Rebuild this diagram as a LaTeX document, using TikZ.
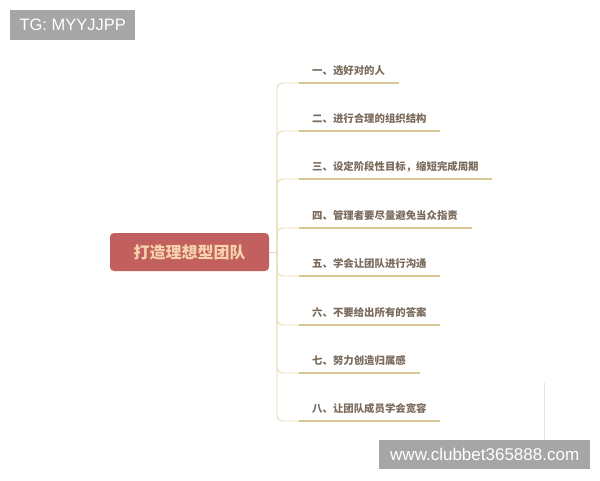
\documentclass[tikz,border=0pt]{standalone}
\usepackage{fontspec}
\setmainfont{Liberation Sans}
\newfontfamily\cjk{Noto Sans CJK SC}
\usepackage{xcolor}
\definecolor{rootred}{HTML}{C25F5F}
\definecolor{roottext}{HTML}{F6D3AB}
\definecolor{itemtext}{HTML}{7A6A5C}
\definecolor{ulinetan}{HTML}{D8C896}
\definecolor{branchtan}{HTML}{E4DAB2}
\definecolor{tagfill}{HTML}{A6A6A6}
\definecolor{faintgray}{HTML}{E2E2E2}

\begin{document}
\begin{tikzpicture}[x=1pt,y=-1pt,
    item/.style={anchor=south west,inner xsep=13.5pt,inner ysep=6pt,text height=8pt,text depth=2pt,text=itemtext,font=\cjk\bfseries\fontsize{10.4}{12}\selectfont},
    uline/.style={draw=ulinetan,line width=1.6pt},
    branch/.style={draw=branchtan,line width=0.9pt,rounded corners=5pt},
    tagbox/.style={anchor=north west,fill=tagfill,text=white,inner sep=0pt}]
    \useasboundingbox (0,0) rectangle (600,480);

    \node[tagbox,minimum width=125pt,minimum height=30pt,font=\fontsize{16.5}{20}\selectfont] (tg) at (10,10) {TG: MYYJJPP};
    \node[tagbox,minimum width=211pt,minimum height=29pt,font=\fontsize{17}{20}\selectfont] (site) at (379,440) {www.clubbet365888.com};
    \coordinate (faint) at (544,383);
    \draw[faintgray,line width=0.8pt] (faint) -- (faint |- site.north);

    \node[rounded corners=4pt,fill=rootred,minimum width=159pt,minimum height=38pt,inner sep=0pt,text=roottext,font=\cjk\bfseries\fontsize{16}{18}\selectfont] (root) at (189.5,252) {打造理想型团队};
    \coordinate (hub) at (277,252);

    \node[item] (i1) at (298.5,83) {一、选好对的人};
    \node[item] (i2) at (298.5,131) {二、进行合理的组织结构};
    \node[item] (i3) at (298.5,179) {三、设定阶段性目标，缩短完成周期};
    \node[item] (i4) at (298.5,228) {四、管理者要尽量避免当众指责};
    \node[item] (i5) at (298.5,276) {五、学会让团队进行沟通};
    \node[item] (i6) at (298.5,325) {六、不要给出所有的答案};
    \node[item] (i7) at (298.5,373) {七、努力创造归属感};
    \node[item] (i8) at (298.5,421) {八、让团队成员学会宽容};

    \draw[branch] (root.east) -- (hub);
    \draw[branch] (hub) |- (i1.south west);
    \draw[branch] (hub) |- (i2.south west);
    \draw[branch] (hub) |- (i3.south west);
    \draw[branch] (hub) |- (i4.south west);
    \draw[branch] (hub) |- (i5.south west);
    \draw[branch] (hub) |- (i6.south west);
    \draw[branch] (hub) |- (i7.south west);
    \draw[branch] (hub) |- (i8.south west);

    \draw[uline] (i1.south west) -- (i1.south east);
    \draw[uline] (i2.south west) -- (i2.south east);
    \draw[uline] (i3.south west) -- (i3.south east);
    \draw[uline] (i4.south west) -- (i4.south east);
    \draw[uline] (i5.south west) -- (i5.south east);
    \draw[uline] (i6.south west) -- (i6.south east);
    \draw[uline] (i7.south west) -- (i7.south east);
    \draw[uline] (i8.south west) -- (i8.south east);
\end{tikzpicture}
\end{document}
